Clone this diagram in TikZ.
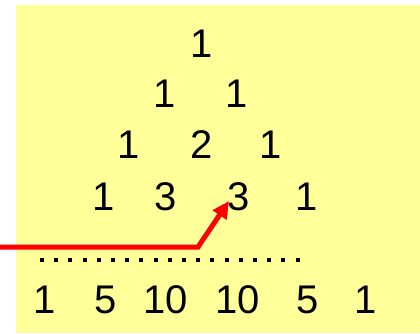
\documentclass[tikz,border=0pt]{standalone}
\usepackage{fontspec}
\setmainfont{Liberation Sans}
\usetikzlibrary{arrows.meta}
\begin{document}
\begin{tikzpicture}[x=1pt,y=-1pt,
  num/.style={anchor=base,inner sep=0pt,font=\fontsize{40}{40}\selectfont},
  dotmark/.style={fill=black,inner sep=0pt,minimum size=4pt},
  redarrow/.style={draw=red,line width=5pt,-{Triangle[length=17pt,width=16pt]}}]
\useasboundingbox (0,0) rectangle (420,333);
\fill[fill={rgb,255:red,255;green,255;blue,153}] (16,5) rectangle (420,333);
% row 1
\node[num] (r1a) at (202,57) {1};
% row 2
\node[num] (r2a) at (165,107) {1};
\node[num] (r2b) at (237,107) {1};
% row 3
\node[num] (r3a) at (129,158) {1};
\node[num] (r3b) at (202,158) {2};
\node[num] (r3c) at (271,158) {1};
% row 4
\node[num] (r4a) at (104,210) {1};
\node[num] (r4b) at (166,210) {3};
\node[num] (r4c) at (239,210) {3};
\node[num] (r4d) at (307,210) {1};
% dots
\foreach \i in {0,...,18} {
  \node[dotmark] (d\i) at ({42+\i*14.2},260) {};
}
% row 6
\node[num] (r6a) at (45,313) {1};
\node[num] (r6b) at (106,313) {5};
\node[num] (r6c) at (166,313) {10};
\node[num] (r6d) at (238,313) {10};
\node[num] (r6e) at (308,313) {5};
\node[num] (r6f) at (366,313) {1};
% arrow
\coordinate (start) at (0,247);
\coordinate (bend) at (198,247);
\coordinate (tip) at (229,201);
\draw[redarrow] (start) -- (bend) -- (tip);
\end{tikzpicture}
\end{document}
